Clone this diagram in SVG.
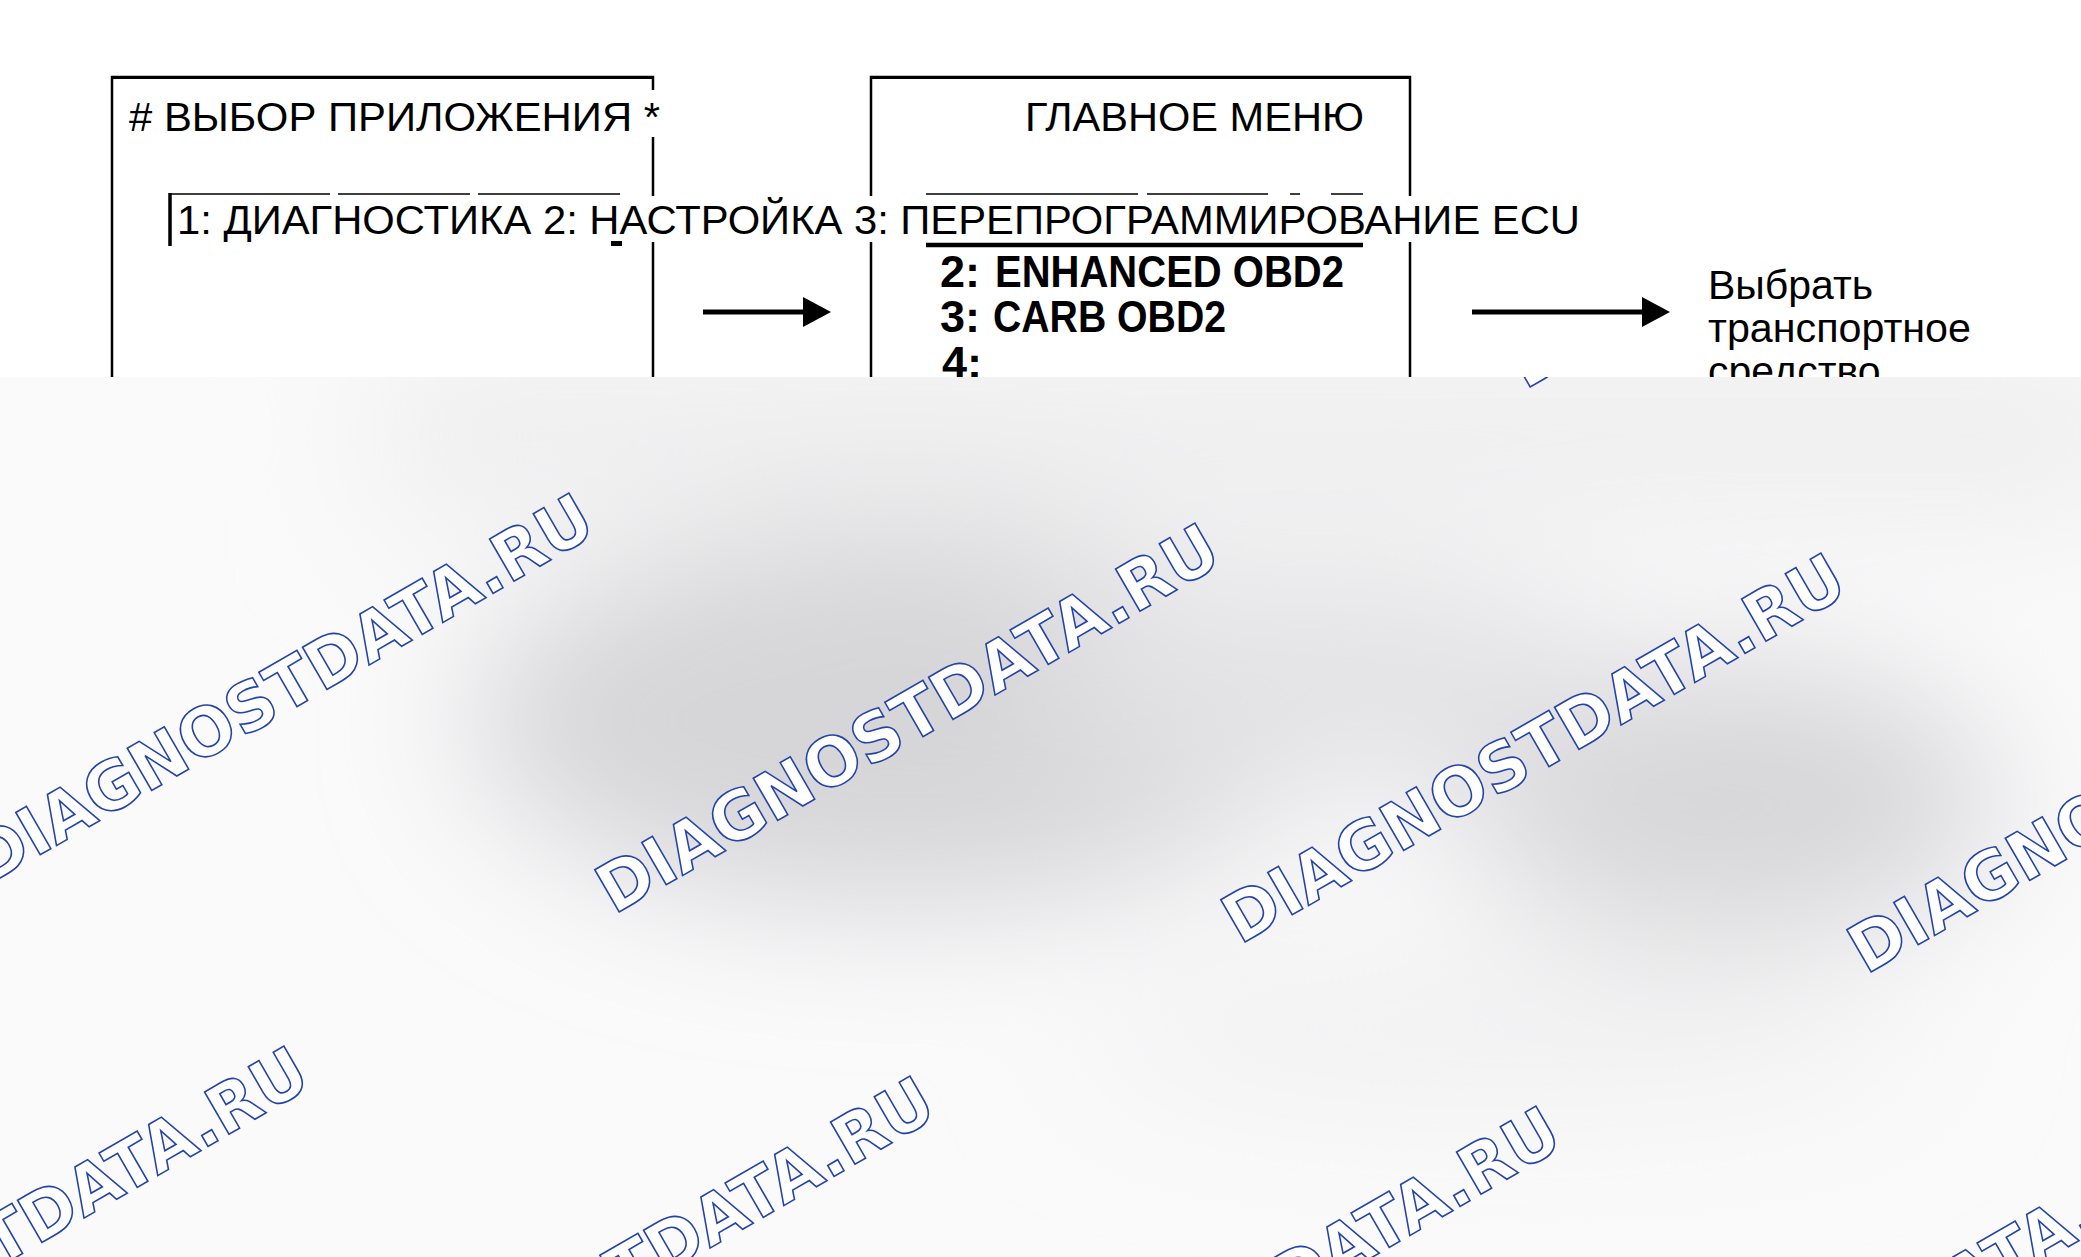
<svg xmlns="http://www.w3.org/2000/svg" width="2081" height="1257" viewBox="0 0 2081 1257">
<defs>
<style>
.t{font-family:"Liberation Sans",Arial,sans-serif;fill:#000;font-size:41px}
.tb{font-family:"Liberation Sans",Arial,sans-serif;fill:#000;font-size:45px;font-weight:bold}
.box{fill:none;stroke:#000;stroke-width:2.5}
.bg{fill:#fff}
.thin{stroke:#000;stroke-width:1.6;fill:none}
.conn{stroke:#000;stroke-width:5;fill:none}
.wm{font-family:"DejaVu Sans",sans-serif;font-weight:bold;font-size:67px;fill:#fff;stroke:#2443a8;stroke-width:1.6}
</style>
<marker id="ah" markerUnits="userSpaceOnUse" markerWidth="30" markerHeight="32" refX="16" refY="15" orient="auto">
<path d="M0,0 L28,15 L0,30 Z" fill="#000"/>
</marker>
<clipPath id="band"><rect x="0" y="377" width="2081" height="880"/></clipPath>
<filter id="blur" x="-60%" y="-60%" width="220%" height="220%"><feGaussianBlur stdDeviation="70"/></filter>
</defs>
<rect x="0" y="0" width="2081" height="1257" fill="#fff"/>

<g id="node-app-select">
<rect class="box" x="112" y="77" width="541" height="340"/>
<line x1="112" y1="77.5" x2="653" y2="77.5" stroke="#000" stroke-width="3"/>
<rect class="bg" x="124" y="90" width="541" height="47"/>
<text class="t" x="129" y="131" textLength="531" lengthAdjust="spacingAndGlyphs"># ВЫБОР ПРИЛОЖЕНИЯ *</text>
</g>

<g id="node-main-menu">
<rect class="box" x="871" y="77" width="539" height="340"/>
<line x1="871" y1="77.5" x2="1410" y2="77.5" stroke="#000" stroke-width="3"/>
<text class="t" x="1025" y="131" textLength="339" lengthAdjust="spacingAndGlyphs">ГЛАВНОЕ МЕНЮ</text>
<path class="thin" d="M926,194 H1138 M1147,194 H1268 M1290,194 H1300 M1331,194 H1363"/>
<line x1="926" y1="245" x2="1363" y2="245" stroke="#000" stroke-width="4.5"/>
<text class="tb" x="940" y="287">2:</text>
<text class="tb" x="995" y="287" textLength="349" lengthAdjust="spacingAndGlyphs">ENHANCED OBD2</text>
<text class="tb" x="940" y="332">3:</text>
<text class="tb" x="993" y="332" textLength="233" lengthAdjust="spacingAndGlyphs">CARB OBD2</text>
<text class="tb" x="942" y="378">4:</text>
</g>

<g id="node-options">
<path class="thin" d="M169,194 H330 M338,194 H470 M478,194 H620"/>
<line x1="170" y1="193" x2="170" y2="246" stroke="#000" stroke-width="3.5"/>
<rect class="bg" x="173" y="196" width="1420" height="46"/>
<text class="t" x="177" y="234" textLength="1403" lengthAdjust="spacingAndGlyphs">1: ДИАГНОСТИКА 2: НАСТРОЙКА 3: ПЕРЕПРОГРАММИРОВАНИЕ ECU</text>
<rect x="611" y="241" width="11" height="5" fill="#000"/>
</g>

<g id="node-vehicle">
<text class="t" x="1708" y="299">Выбрать</text>
<text class="t" x="1708" y="342" textLength="263" lengthAdjust="spacingAndGlyphs">транспортное</text>
<text class="t" x="1708" y="385">средство</text>
</g>

<g id="connectors">
<line class="conn" x1="703" y1="312" x2="819" y2="312" marker-end="url(#ah)"/>
<line class="conn" x1="1472" y1="312" x2="1658" y2="312" marker-end="url(#ah)"/>
</g>

<g id="watermark-band" clip-path="url(#band)">
<rect x="0" y="377" width="2081" height="880" fill="#fafafb"/>
<g filter="url(#blur)">
<rect x="380" y="350" width="1750" height="170" fill="#eeeeef"/>
<ellipse cx="900" cy="720" rx="430" ry="190" fill="#d6d6d8"/>
<ellipse cx="1730" cy="800" rx="270" ry="140" fill="#d7d7d9"/>
<ellipse cx="1330" cy="680" rx="300" ry="110" fill="#e3e3e5"/>
<ellipse cx="1500" cy="1030" rx="420" ry="80" fill="#f1f1f2"/>
</g>
<g id="watermarks">
<text class="wm" transform="translate(1525,390) rotate(-30)" textLength="705" lengthAdjust="spacingAndGlyphs">DIAGNOSTDATA.RU</text>
<text class="wm" transform="translate(-12,885) rotate(-30)" textLength="705" lengthAdjust="spacingAndGlyphs">DIAGNOSTDATA.RU</text>
<text class="wm" transform="translate(614,915) rotate(-30)" textLength="705" lengthAdjust="spacingAndGlyphs">DIAGNOSTDATA.RU</text>
<text class="wm" transform="translate(1240,945) rotate(-30)" textLength="705" lengthAdjust="spacingAndGlyphs">DIAGNOSTDATA.RU</text>
<text class="wm" transform="translate(1866,975) rotate(-30)" textLength="705" lengthAdjust="spacingAndGlyphs">DIAGNOSTDATA.RU</text>
<text class="wm" transform="translate(-297,1438) rotate(-30)" textLength="705" lengthAdjust="spacingAndGlyphs">DIAGNOSTDATA.RU</text>
<text class="wm" transform="translate(329,1468) rotate(-30)" textLength="705" lengthAdjust="spacingAndGlyphs">DIAGNOSTDATA.RU</text>
<text class="wm" transform="translate(955,1498) rotate(-30)" textLength="705" lengthAdjust="spacingAndGlyphs">DIAGNOSTDATA.RU</text>
<text class="wm" transform="translate(1581,1528) rotate(-30)" textLength="705" lengthAdjust="spacingAndGlyphs">DIAGNOSTDATA.RU</text>
</g>
</g>
</svg>
